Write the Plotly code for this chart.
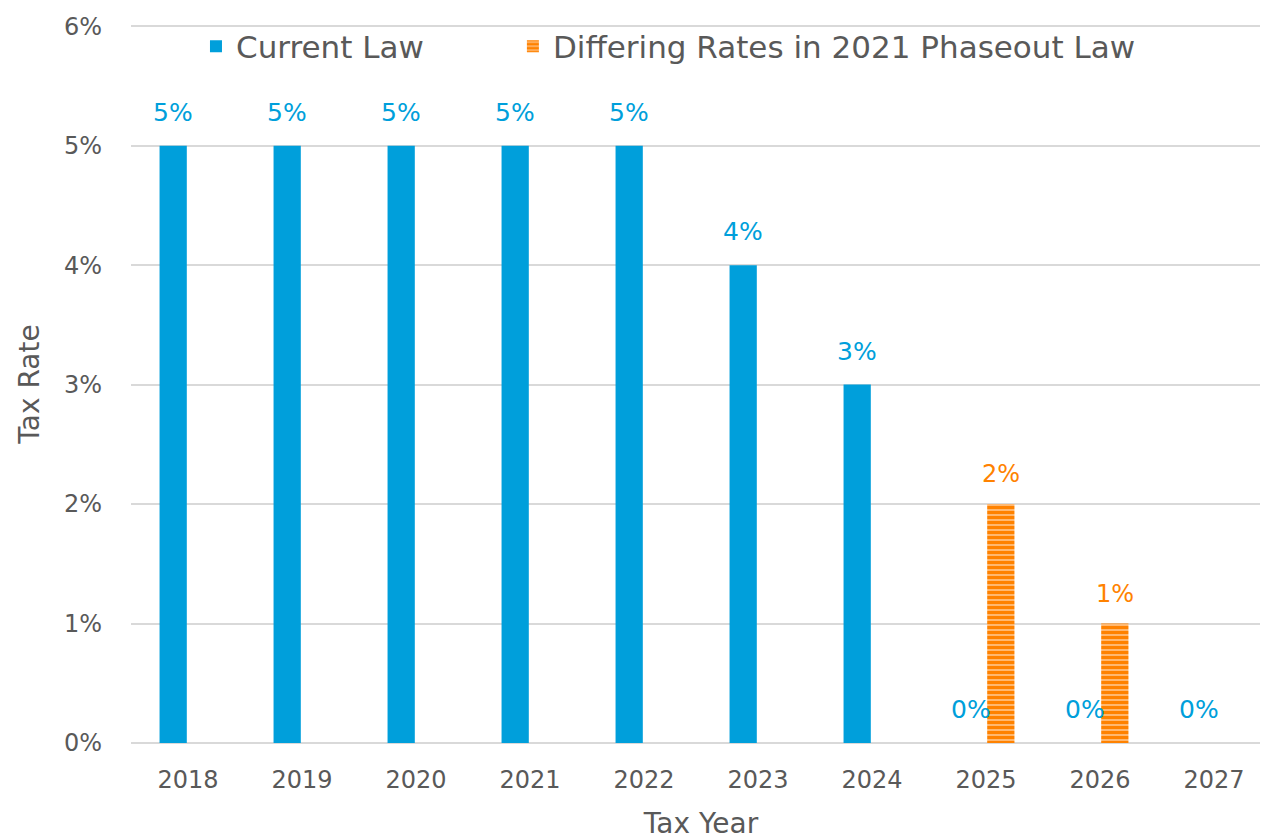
import plotly.graph_objects as go

years = ["2018", "2019", "2020", "2021", "2022", "2023", "2024", "2025", "2026", "2027"]
current_law = [5, 5, 5, 5, 5, 4, 3, 0, 0, 0]
phaseout_2021 = [None, None, None, None, None, None, None, 2, 1, None]
y_ticks = [0, 1, 2, 3, 4, 5, 6]

BLUE = "#009FDB"
ORANGE = "#FF8200"
GRAY = "#595959"
FONT = "DejaVu Sans"

fig = go.Figure()
fig.add_trace(go.Bar(
    x=years, y=current_law, name="Current Law", legend="legend",
    marker=dict(color=BLUE, line=dict(width=0)), offsetgroup="a",
))
fig.add_trace(go.Bar(
    x=years, y=phaseout_2021, name="Differing Rates in 2021 Phaseout Law", legend="legend2",
    marker=dict(color=ORANGE, line=dict(width=0),
                pattern=dict(shape="-", fgcolor=ORANGE, bgcolor="#FFD9B3", size=5,
                             solidity=0.75, fgopacity=1)),
    offsetgroup="b",
))

for i, v in enumerate(current_law):
    if v is not None:
        fig.add_annotation(x=i, y=v, xref="x", yref="y", text=f"{v}%", showarrow=False,
                           xshift=-15, yshift=17, yanchor="bottom",
                           font=dict(family=FONT, size=25, color=BLUE))
for i, v in enumerate(phaseout_2021):
    if v is not None:
        fig.add_annotation(x=i, y=v, xref="x", yref="y", text=f"{v}%", showarrow=False,
                           xshift=15, yshift=14, yanchor="bottom",
                           font=dict(family=FONT, size=24, color=ORANGE))

legend_style = dict(orientation="h", y=0.97, yanchor="middle", xanchor="left",
                    font=dict(family=FONT, size=31, color=GRAY), bgcolor="rgba(255,255,255,0)",
                    itemwidth=30)

fig.update_layout(
    width=1268, height=839,
    margin=dict(l=123, r=5, t=14, b=104),
    paper_bgcolor="white", plot_bgcolor="white",
    bargap=0.48, bargroupgap=0.08,
    font=dict(family=FONT, color=GRAY),
    showlegend=True,
    legend=dict(x=0.057, **legend_style),
    legend2=dict(x=0.335, **legend_style),
    xaxis=dict(type="category", range=[-0.5, len(years) - 0.5], showgrid=False, ticks="", showline=False,
               tickfont=dict(family=FONT, size=24, color=GRAY), ticklabelstandoff=20,
               title=dict(text="Tax Year", font=dict(family=FONT, size=28, color=GRAY), standoff=20)),
    yaxis=dict(range=[0, 6.01], tickvals=y_ticks, ticktext=[f"{t}%" for t in y_ticks],
               showgrid=True, gridcolor="#D9D9D9", gridwidth=2,
               zeroline=True, zerolinecolor="#D9D9D9", zerolinewidth=2,
               tickfont=dict(family=FONT, size=24, color=GRAY), ticklabelstandoff=28,
               title=dict(text="Tax Rate", font=dict(family=FONT, size=28, color=GRAY), standoff=16)),
)

fig.write_html("out.html")
